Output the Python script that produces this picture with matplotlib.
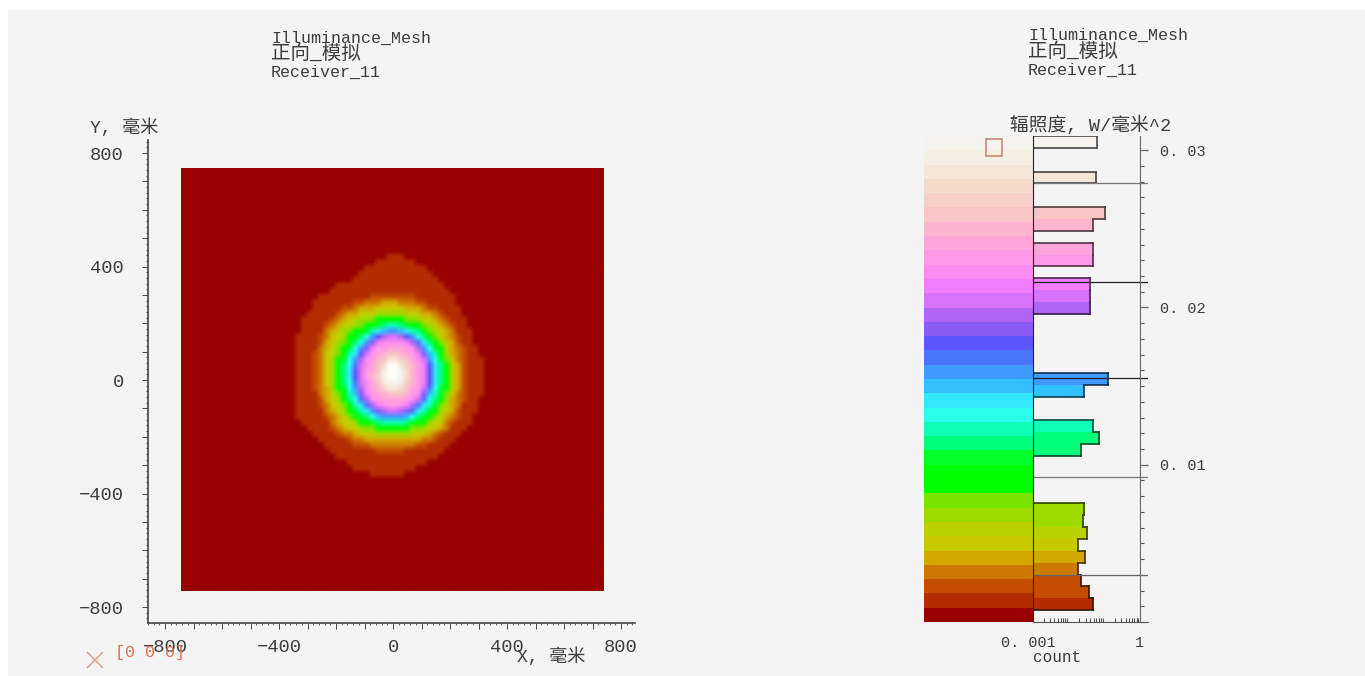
import numpy as np
import matplotlib
matplotlib.use("Agg")
import matplotlib.pyplot as plt
from matplotlib.colors import LinearSegmentedColormap, Normalize
from matplotlib.lines import Line2D
from matplotlib.patches import Rectangle
from matplotlib.ticker import FixedLocator, MultipleLocator, NullFormatter

W, H = 1365, 676
BG = "#f4f4f4"
TEXT = "#3c3c3c"
LATIN = ["Liberation Mono", "Noto Sans CJK SC"]

# irradiance scale (W/mm^2) and the colours
y_max = 0.0309
n_bands = 34
cmap_values = [0, 0.00045, 0.00091, 0.00182, 0.00273, 0.00364, 0.00455, 0.0055, 0.00745, 0.0083, 0.0098, 0.0116,
               0.0135, 0.0151, 0.01764, 0.01924, 0.0211, 0.0227, 0.0246, 0.0262, 0.0281, 0.0297, 0.0309]
cmap_colors = ["#990000", "#990000", "#b22c00", "#c44a00", "#cc7400", "#d4a400", "#c8c800", "#c0d000", "#80e400",
               "#00ff00", "#00ff00", "#00ff99", "#33ffff", "#33bbff", "#5555ff", "#a060f0", "#ee77ff", "#ff90f0",
               "#ffa8d8", "#f8c4c4", "#f4dccc", "#f6eee0", "#f5f3ee"]
peak_color = "#fffef8"

# histogram on the colour bar: 41 bins, log count
hist_counts = [0, .048, .037, .022, .018, .029, .018, .033, .025, .027, 0, 0, 0, 0, .022, .071, .048, 0, 0, .027,
               .127, 0, 0, 0, 0, 0, .040, .040, .040, 0, .047, .047, 0, .048, .104, 0, 0, .058, 0, 0, .062]
hline_values = [0.0030, 0.0092, 0.0155, 0.0216, 0.0279]
hline_colors = ["#666666", "#777777", "#222222", "#222222", "#777777"]

# outlines of the spot on the receiver: radius in mm per level and direction
angles = np.arange(0, 360, 22.5)
spot_center = (-4, 7)
background_level = 0.0005
peak_level = 0.0315
levels = [0.00091, 0.0018, 0.0045, 0.0092, 0.0135, 0.0175, 0.0215, 0.026, 0.0309]
level_radii = [
    [320, 312, 332, 388, 430, 368, 380, 362, 345, 362, 335, 350, 350, 322, 312, 318],
    [263, 271, 281, 287, 292, 292, 298, 287, 276, 275, 283, 275, 264, 267, 275, 267],
    [215, 222, 240, 240, 245, 248, 263, 248, 234, 234, 241, 228, 218, 228, 240, 225],
    [187, 188, 191, 193, 193, 193, 191, 190, 188, 187, 187, 185, 183, 185, 187, 187],
    [153, 156, 161, 167, 171, 167, 161, 156, 153, 153, 154, 156, 157, 156, 154, 153],
    [131, 135, 140, 147, 151, 147, 140, 133, 130, 131, 133, 136, 136, 136, 133, 131],
    [112, 115, 121, 129, 133, 129, 117, 110, 106, 109, 112, 117, 118, 117, 115, 112],
    [63, 66, 70, 74, 75, 70, 61, 56, 54, 56, 59, 63, 66, 64, 63, 63],
    [26, 26, 29, 37, 47, 37, 29, 26, 23, 23, 23, 23, 23, 23, 23, 26],
]

xy_ticks = [-800, -400, 0, 400, 800]
title_lines = ["Illuminance_Mesh", "正向_模拟", "Receiver_11"]


def axes_px(x0, y0, x1, y1):
    return fig.add_axes([x0 / W, 1 - y1 / H, (x1 - x0) / W, (y1 - y0) / H])


def put(x, y, s, size=12, color=TEXT, ha="left"):
    fig.text(x / W, 1 - y / H, s, family=LATIN, fontsize=size, color=color, ha=ha, va="center")


fig = plt.figure(figsize=(W / 100, H / 100), dpi=100, facecolor="white")
fig.add_artist(Rectangle((8 / W, 0), 1, 1 - 10 / H, transform=fig.transFigure, color=BG, lw=0, zorder=-5))

cmap = LinearSegmentedColormap.from_list("irradiance", [(v / y_max, c) for v, c in zip(cmap_values, cmap_colors)], N=n_bands)
cmap.set_over(peak_color)
norm = Normalize(0, y_max)

# build the mesh from the outlines
mesh_edges = np.arange(-745, 746, 20)
mesh_x = (mesh_edges[:-1] + mesh_edges[1:]) / 2
closed_angles = np.append(angles, 360)
radii = np.array(level_radii)
Z = np.full((mesh_x.size, mesh_x.size), background_level)
for i, yy in enumerate(mesh_x):
    for j, xx in enumerate(mesh_x):
        dx, dy = xx - spot_center[0], yy - spot_center[1]
        r = np.hypot(dx, dy)
        th = np.degrees(np.arctan2(dy, dx)) % 360
        rr = [np.interp(th, closed_angles, np.append(row, row[0])) for row in radii]
        if r <= rr[0]:
            Z[i, j] = np.interp(r, [0] + rr[::-1], [peak_level] + levels[::-1])

# left panel
ax = axes_px(148, 140, 635, 623)
ax.patch.set_alpha(0)
ax.imshow(Z, origin="lower", extent=(-745, 738, -745, 745), cmap=cmap, norm=norm, aspect="auto",
          interpolation="bilinear", interpolation_stage="rgba")
ax.set_xlim(-860, 849)
ax.set_ylim(-856, 846)
for s in ["top", "right"]:
    ax.spines[s].set_visible(False)
for s in ["left", "bottom"]:
    ax.spines[s].set_color("#444444")
    ax.spines[s].set_linewidth(1.2)
for axis in [ax.xaxis, ax.yaxis]:
    axis.set_major_locator(FixedLocator(np.arange(-800, 801, 100)))
    axis.set_minor_locator(MultipleLocator(20))
    axis.set_major_formatter(lambda v, pos: f"{v:.0f}".replace("-", "\u2212") if v in xy_ticks else "")
ax.tick_params(which="major", length=4.5, width=0.7, color="#444444", labelsize=13.5, labelcolor=TEXT)
ax.tick_params(which="minor", length=1.5, width=0.6, color="#444444")
ax.tick_params(axis="y", which="major", pad=13)
ax.tick_params(axis="x", which="major", pad=7)
for t in ax.get_xticklabels() + ax.get_yticklabels():
    t.set_family(LATIN)

# colour bar
ax_bar = axes_px(924, 136, 1033, 622)
band_edges = np.linspace(0, y_max, n_bands + 1)
ax_bar.pcolormesh([0, 1], band_edges, ((band_edges[:-1] + band_edges[1:]) / 2).reshape(-1, 1), cmap=cmap, norm=norm)
ax_bar.set_ylim(0, y_max)
ax_bar.axis("off")

# histogram beside the bar
ax_hist = axes_px(1033, 136, 1148, 622)
ax_hist.patch.set_alpha(0)
ax_hist.set_xscale("log")
x_min = 0.001
ax_hist.set_xlim(x_min, 10 ** (115 / 107 * 3 - 3))
ax_hist.set_ylim(0, y_max)
bin_edges = np.linspace(0, y_max, len(hist_counts) + 1)
for i, c in enumerate(hist_counts):
    if c == 0:
        continue
    lo, hi = bin_edges[i], bin_edges[i + 1]
    col = np.array(cmap(norm((lo + hi) / 2)))
    dark = tuple(col[:3] * 0.3)
    ax_hist.fill_betweenx([lo, hi], x_min, c, color=col, lw=0)
    ax_hist.plot([c, c], [lo, hi], color=dark, lw=1.2, solid_capstyle="projecting")
    below = hist_counts[i - 1] if i > 0 else 0
    above = hist_counts[i + 1] if i + 1 < len(hist_counts) else 0
    if below < c:
        ax_hist.plot([max(below, x_min), c], [lo, lo], color=dark, lw=1.2)
    if above < c:
        ax_hist.plot([max(above, x_min), c], [hi, hi], color=dark, lw=1.2)
for v, col in zip(hline_values, hline_colors):
    ax_hist.axhline(v, color=col, lw=0.9)
ax_hist.spines["top"].set_visible(False)
ax_hist.spines["left"].set_color("#222222")
ax_hist.spines["bottom"].set_color("#555555")
ax_hist.spines["right"].set_color("#666666")
ax_hist.spines["right"].set_position(("data", 1))
ax_hist.yaxis.tick_right()
ax_hist.yaxis.set_major_locator(FixedLocator([0.01, 0.02, 0.03]))
ax_hist.yaxis.set_minor_locator(MultipleLocator(0.001))
ax_hist.set_yticklabels(["0. 01", "0. 02", "0. 03"], family=LATIN, fontsize=11, color=TEXT)
ax_hist.tick_params(axis="y", which="major", length=5.5, width=0.9, color="#666666", pad=9)
ax_hist.tick_params(axis="y", which="minor", length=3, width=0.8, color="#555555")
ax_hist.set_xticks([0.001, 1])
ax_hist.set_xticklabels(["0. 001 ", "1"], family=LATIN, fontsize=11, color=TEXT)
ax_hist.xaxis.set_minor_formatter(NullFormatter())
ax_hist.tick_params(axis="x", which="both", direction="in", color="#444444", width=0.7)
ax_hist.tick_params(axis="x", which="major", length=6, pad=10)
ax_hist.tick_params(axis="x", which="minor", length=3)

# titles and axis names
for x, ys in [(271, (38, 54, 72)), (1028, (35, 52, 70))]:
    for line, y, size in zip(title_lines, ys, (12, 14, 12)):
        put(x, y, line, size=size)
put(90, 128, "Y, 毫米", size=13)
put(517, 657, "X, 毫米", size=13)
put(1010, 125, "辐照度, W/毫米^2", size=13.5)
put(1033, 657, "count", size=11.5)
put(115, 653, "[0 0 0]", size=12, color="#e07050")

# marker in the corner and the small box over the bar
fig.add_artist(Line2D([95 / W], [1 - 660 / H], marker="x", ms=11, mew=1.1, color="#e0a090", transform=fig.transFigure))
fig.add_artist(Rectangle((986 / W, 1 - 156 / H), 16 / W, 17 / H, transform=fig.transFigure,
                         fill=False, ec="#c98a78", lw=1.2))

fig.savefig("out.png", dpi=100)
